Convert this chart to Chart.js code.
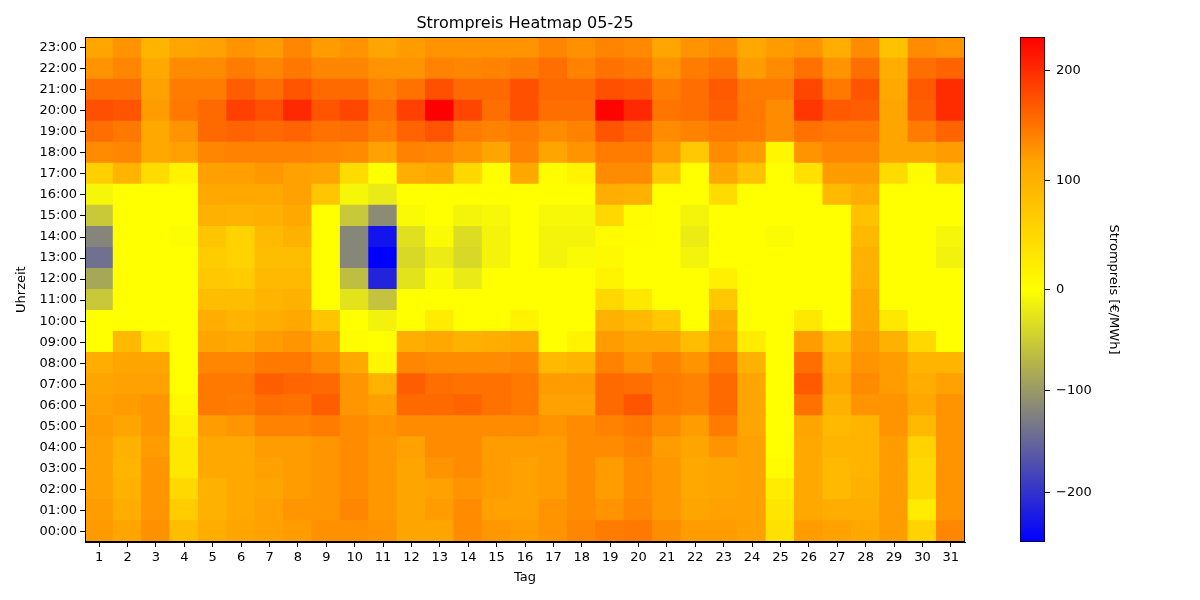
<!DOCTYPE html>
<html><head><meta charset="utf-8">
<script src="https://cdn.jsdelivr.net/npm/chart.js@4.4.0/dist/chart.umd.min.js"></script>
<style>
html,body{margin:0;padding:0;background:#fff;}
#wrap{position:relative;width:1200px;height:600px;overflow:hidden;}
#main{position:absolute;left:0;top:0;}
#cbar{position:absolute;left:1000px;top:0;}
</style></head><body>
<div id="wrap">
<canvas id="main" width="1200" height="600"></canvas>
<canvas id="cbar" width="200" height="600"></canvas>
</div>
<script>
// Categories
const days = ['1','2','3','4','5','6','7','8','9','10','11','12','13','14','15','16','17','18','19','20','21','22','23','24','25','26','27','28','29','30','31'];
const hourLabels = ['00:00','01:00','02:00','03:00','04:00','05:00','06:00','07:00','08:00','09:00','10:00','11:00','12:00','13:00','14:00','15:00','16:00','17:00','18:00','19:00','20:00','21:00','22:00','23:00'];
const cbTicks = [-200,-100,0,100,200];

// Prices [€/MWh] per hour, days 1..31
const p00 = [123,115,130,85,105,115,118,122,130,130,128,115,115,133,125,122,128,137,144,147,132,122,122,118,38,122,118,112,122,58,137];
const p01 = [122,105,127,65,100,112,118,127,127,137,125,115,122,133,118,118,128,133,128,137,125,115,118,118,32,112,105,105,122,25,128];
const p02 = [118,100,127,50,100,112,115,122,127,133,125,115,118,128,122,118,122,133,122,133,125,112,115,118,25,112,90,100,122,50,128];
const p03 = [118,95,127,30,112,112,118,122,127,133,125,115,128,133,122,118,122,133,122,133,125,112,115,118,5,112,90,95,122,50,128];
const p04 = [118,100,122,30,112,112,122,122,127,133,125,118,133,133,122,122,122,133,133,140,122,115,128,118,0,112,95,95,122,58,128];
const p05 = [122,115,127,20,122,127,140,140,144,133,128,133,133,133,133,133,128,133,140,147,133,122,144,115,0,115,90,95,128,90,128];
const p06 = [118,122,127,8,147,144,154,151,165,127,120,157,157,161,151,147,118,118,157,172,144,140,157,115,0,151,100,128,128,112,128];
const p07 = [115,118,118,0,147,147,165,160,157,127,100,165,154,151,151,147,122,122,157,154,144,140,157,115,0,168,112,133,122,105,118];
const p08 = [105,115,115,0,137,137,147,147,133,112,12,137,133,133,133,137,90,95,140,128,140,128,147,100,0,154,100,128,122,95,95];
const p09 = [0,90,30,0,115,112,122,127,112,5,0,105,112,100,105,112,0,15,122,115,116,85,118,25,0,122,78,122,100,50,0];
const p10 = [0,0,0,0,105,95,105,112,75,0,-13,0,25,0,0,15,0,0,100,90,70,0,105,0,0,30,0,112,30,0,0];
const p11 = [-54,0,0,0,85,85,95,100,0,-27,-59,0,0,0,0,0,0,0,50,30,0,0,70,0,0,0,0,112,0,0,0];
const p12 = [-86,0,0,0,70,65,90,90,0,-64,-215,-27,-5,-21,0,0,0,0,15,0,0,0,20,0,0,0,0,102,0,0,0];
const p13 = [-140,0,0,0,65,58,85,85,0,-118,-249,-38,-19,-38,-11,0,-11,-5,8,0,0,-11,0,0,0,0,0,100,0,0,-13];
const p14 = [-120,0,0,-3,75,58,90,100,0,-118,-231,-30,-5,-34,-11,0,-11,-11,5,2,0,-19,0,0,-4,0,0,90,0,0,-9];
const p15 = [-54,0,0,0,100,97,103,110,0,-54,-113,-5,0,-11,-8,0,-8,-8,50,5,0,-11,0,0,0,0,0,78,0,0,0];
const p16 = [-9,0,0,0,112,110,110,118,75,-9,-21,0,0,0,0,0,0,0,105,100,0,0,45,0,0,0,90,105,0,0,0];
const p17 = [60,95,45,15,120,120,125,118,115,45,0,105,112,50,0,112,5,15,133,133,70,0,112,78,0,38,122,122,45,5,70];
const p18 = [133,137,112,118,137,140,140,140,137,133,118,140,137,128,115,140,115,128,144,144,122,70,133,122,12,128,137,137,115,115,122];
const p19 = [154,147,112,128,157,161,157,161,151,154,142,161,172,144,140,144,133,140,172,161,133,140,147,144,133,151,147,147,115,144,161];
const p20 = [175,172,122,147,157,186,175,203,172,182,151,186,231,182,154,175,154,154,229,203,149,154,165,147,133,193,168,165,115,165,200];
const p21 = [154,154,118,144,144,165,154,172,157,157,140,151,175,157,157,175,157,157,175,172,144,154,168,144,144,182,147,172,112,168,200];
const p22 = [128,137,112,133,133,144,137,147,137,137,128,128,140,137,140,144,154,140,151,147,128,144,151,122,133,151,128,154,105,154,161];
const p23 = [115,128,95,115,118,128,122,137,122,128,115,122,128,128,128,128,138,130,138,135,115,128,133,112,122,128,105,133,78,133,128];

const rows = [p00,p01,p02,p03,p04,p05,p06,p07,p08,p09,p10,p11,p12,p13,p14,p15,p16,p17,p18,p19,p20,p21,p22,p23];
const allVals = rows.flat();
const vmin = Math.min(...allVals);
const vmax = Math.max(...allVals);
const vcenter = 0;

// two-slope norm centred on 0
function norm(v){
  if (v < vcenter) return 0.5 * (v - vmin) / (vcenter - vmin);
  return 0.5 + 0.5 * (v - vcenter) / (vmax - vcenter);
}

// colormap: blue - grey - yellow - orange - red
const cmap = [[0,[0,0,255]],[0.25,[128,128,128]],[0.5,[255,255,0]],[0.75,[255,165,0]],[1,[255,0,0]]];
function rgb(c){return 'rgb('+c.map(x=>Math.round(x)).join(',')+')';}
function colorFor(v){
  let t = Math.max(0, Math.min(1, norm(v)));
  for (let i = 0; i < cmap.length - 1; i++) {
    const [t0,c0] = cmap[i], [t1,c1] = cmap[i+1];
    if (t <= t1) {
      const f = (t - t0) / (t1 - t0);
      return rgb(c0.map((x,k)=>x + (c1[k]-x)*f));
    }
  }
  return rgb(cmap[cmap.length-1][1]);
}

Chart.defaults.font.family = 'DejaVu Sans';
Chart.defaults.font.size = 13;
Chart.defaults.color = '#000';

const frame = {
  id:'frame',
  afterDraw(chart){
    const a = chart.chartArea, ctx = chart.ctx;
    ctx.save();
    ctx.strokeStyle = '#000'; ctx.lineWidth = 1;
    ctx.strokeRect(Math.round(a.left)+0.5, Math.round(a.top)+0.5, Math.round(a.right-a.left)-1, Math.round(a.bottom-a.top)-1);
    ctx.restore();
  }
};

new Chart(document.getElementById('main'), {
  type:'bar',
  data:{
    labels: days,
    datasets: rows.map((row,h)=>({
      label: hourLabels[h],
      data: row.map(()=>1),
      backgroundColor: row.map(colorFor),
      borderWidth:0,
      barPercentage:1,
      categoryPercentage:1,
      inflateAmount:0.6
    }))
  },
  options:{
    responsive:false, animation:false,
    layout:{padding:{left:0,right:235,top:0,bottom:0}},
    plugins:{
      legend:{display:false}, tooltip:{enabled:false},
      title:{display:true, text:'Strompreis Heatmap 05-25', fullSize:false, color:'#000',
        font:{size:16, weight:'normal'}, padding:{top:14,bottom:4}}
    },
    scales:{
      x:{type:'category', stacked:true, offset:true,
        grid:{offset:false, drawOnChartArea:false, color:'#000', tickLength:5},
        border:{display:true, color:'#000'},
        ticks:{color:'#000', padding:3, maxRotation:0, autoSkip:false},
        title:{display:true, text:'Tag', color:'#000', padding:{top:0,bottom:15}},
        afterFit(s){s.height = 58;}
      },
      y:{type:'linear', stacked:true, min:0, max:24,
        afterBuildTicks(s){ s.ticks = hourLabels.map((_,i)=>({value:i+0.5})); },
        ticks:{callback:(v,i)=>hourLabels[i], autoSkip:false, color:'#000', padding:3},
        grid:{drawOnChartArea:false, color:'#000', tickLength:5},
        border:{display:true, color:'#000'},
        title:{display:true, text:'Uhrzeit', color:'#000', padding:{top:14,bottom:0}},
        afterFit(s){s.width = 85;}
      }
    }
  },
  plugins:[frame]
});

// colour bar: axis in normalised space, ticks labelled with their € values
new Chart(document.getElementById('cbar'), {
  type:'bar',
  data:{
    labels:['cb'],
    datasets:[{
      data:[[norm(vmin), norm(vmax)]],
      backgroundColor:(c)=>{
        const ch = c.chart, ys = ch.scales.y;
        if (!ch.chartArea || !ys) return '#888';
        const g = ch.ctx.createLinearGradient(0, ys.getPixelForValue(0), 0, ys.getPixelForValue(1));
        cmap.forEach(([t,col])=>g.addColorStop(t, rgb(col)));
        return g;
      },
      borderColor:'#000', borderWidth:1, borderSkipped:false,
      barPercentage:1, categoryPercentage:1
    }]
  },
  options:{
    responsive:false, animation:false,
    layout:{padding:{left:20,top:37,bottom:58,right:0}},
    plugins:{legend:{display:false}, tooltip:{enabled:false}},
    scales:{
      x:{display:false},
      y:{position:'right', min:0, max:1,
        afterBuildTicks(s){ s.ticks = cbTicks.map(v=>({value:norm(v)})); },
        ticks:{callback:(v,i)=>String(cbTicks[i]).replace('-','\u2212'), color:'#000', padding:6, autoSkip:false},
        grid:{drawOnChartArea:false, color:'#000', tickLength:5},
        border:{display:false},
        title:{display:true, text:'Strompreis [€/MWh]', color:'#000', padding:{top:79,bottom:0}},
        afterFit(s){s.width = 155;}
      }
    }
  }
});
</script>
</body></html>
